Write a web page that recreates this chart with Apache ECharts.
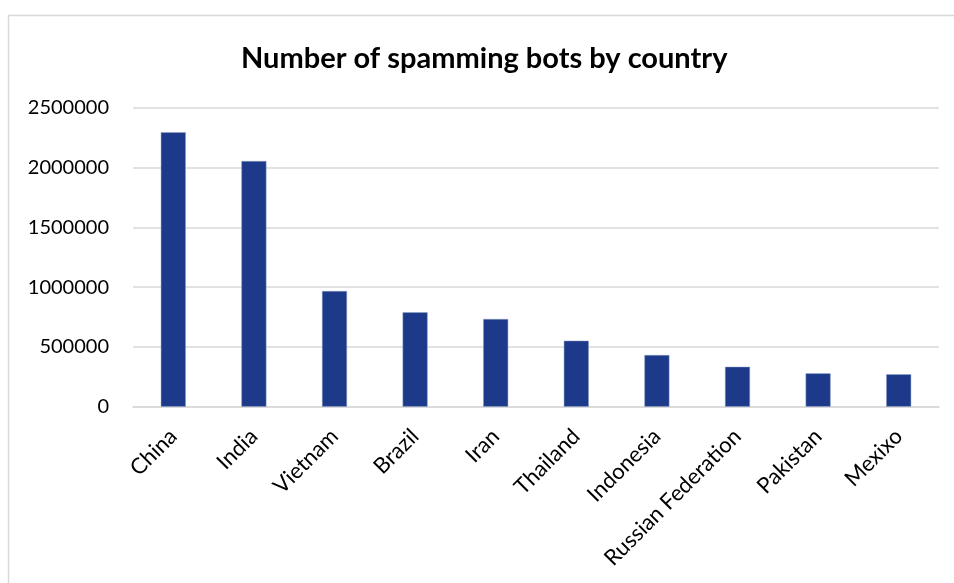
<!DOCTYPE html>
<html>
<head>
<meta charset="utf-8">
<script src="https://cdn.jsdelivr.net/npm/echarts@6/dist/echarts.min.js"></script>
<style>
html,body{margin:0;padding:0;background:#fff;}
#chart{width:954px;height:583px;}
</style>
</head>
<body>
<div id="chart"></div>
<script>
const categories = ["China","India","Vietnam","Brazil","Iran","Thailand","Indonesia","Russian Federation","Pakistan","Mexixo"];
const bots = [2294000, 2054000, 967000, 789000, 733000, 552000, 432000, 334000, 279000, 271000];
const yTicks = { min: 0, max: 2500000, interval: 500000 };
const titleText = "Number of spamming bots by country";

const chart = echarts.init(document.getElementById('chart'), null, {renderer: 'canvas'});
const FONT = 'Lato';
chart.setOption({
  backgroundColor: '#ffffff',
  animation: false,
  title: {
    text: titleText,
    left: 236,
    top: 39,
    textStyle: { fontFamily: FONT, fontWeight: 'bold', fontSize: 29, color: '#000000' }
  },
  graphic: [{
    type: 'rect',
    shape: { x: 8.5, y: 15.5, width: 1200, height: 1200 },
    style: { fill: 'none', stroke: '#d9d9d9', lineWidth: 1.5 },
    silent: true
  }],
  grid: { left: 133, right: 15, top: 107.7, bottom: 176.3, containLabel: false },
  xAxis: {
    type: 'category',
    data: categories,
    axisLine: { show: true, lineStyle: { color: '#d9d9d9', width: 1.5 } },
    axisTick: { show: false },
    axisLabel: { rotate: 45, margin: 26, interval: 0, fontFamily: FONT, fontSize: 22, color: '#000000' }
  },
  yAxis: {
    type: 'value',
    min: yTicks.min, max: yTicks.max, interval: yTicks.interval,
    axisLine: { show: false },
    axisTick: { show: false },
    splitLine: { lineStyle: { color: '#d9d9d9', width: 1.5 } },
    axisLabel: { margin: 24, fontFamily: FONT, fontSize: 20, color: '#000000', formatter: v => String(v) }
  },
  series: [{
    type: 'bar',
    data: bots,
    barWidth: 25,
    itemStyle: { color: '#1c3a89', borderColor: '#8fa0c8', borderWidth: 0.5 }
  }]
});
</script>
</body>
</html>
